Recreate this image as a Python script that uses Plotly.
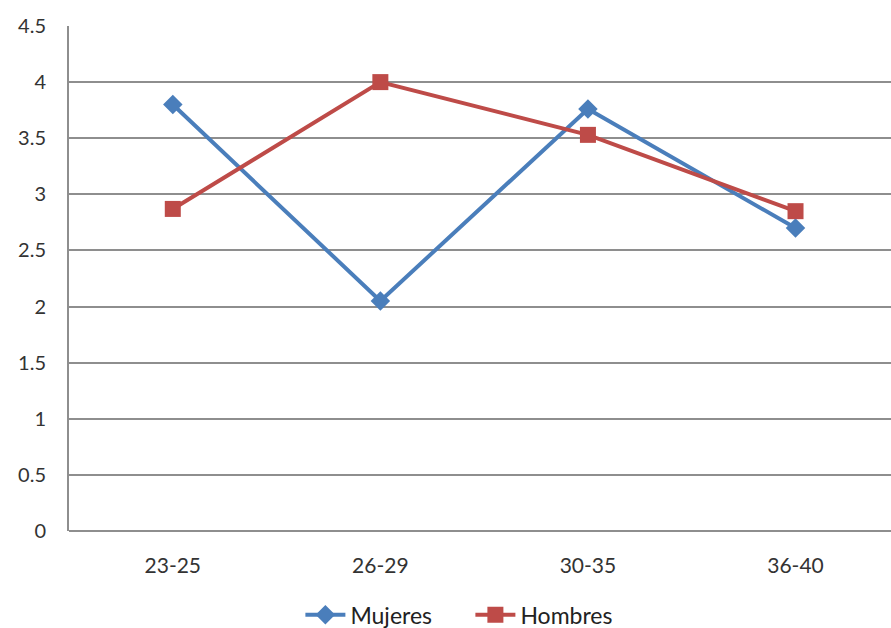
import plotly.graph_objects as go

# Age groups and mean scores per group
grupos = ["23-25", "26-29", "30-35", "36-40"]
mujeres = [3.80, 2.05, 3.76, 2.70]
hombres = [2.87, 4.00, 3.53, 2.85]
y_ticks = [0, 0.5, 1, 1.5, 2, 2.5, 3, 3.5, 4, 4.5]
y_tick_text = ["0", "0.5", "1", "1.5", "2", "2.5", "3", "3.5", "4", "4.5"]

BLUE = "#4a7ebb"
RED = "#be4b48"
GRID = "#8e8e8e"
FONT = "Lato, Open Sans, sans-serif"
TEXT = "#333333"

fig = go.Figure()
fig.add_trace(go.Scatter(
    x=grupos, y=mujeres, name="Mujeres", mode="lines+markers",
    line=dict(color=BLUE, width=4),
    marker=dict(symbol="diamond", size=15, color=BLUE),
))
fig.add_trace(go.Scatter(
    x=grupos, y=hombres, name="Hombres", mode="lines+markers",
    line=dict(color=RED, width=4),
    marker=dict(symbol="square", size=16, color=RED),
))

fig.update_layout(
    width=891, height=628,
    margin=dict(l=69, r=0, t=26, b=97, autoexpand=False),
    paper_bgcolor="white", plot_bgcolor="white",
    font=dict(family=FONT, size=20, color=TEXT),
    showlegend=True,
    legend=dict(
        orientation="h", x=0.2815, xanchor="left",
        yref="container", y=0.021, yanchor="middle",
        font=dict(size=23, color="#222222"),
        traceorder="normal", entrywidth=115, itemwidth=40,
    ),
    xaxis=dict(
        type="category", range=[-0.5, 3.46],
        showgrid=False, showline=False, zeroline=False,
        ticks="", tickfont=dict(size=21, color=TEXT),
        ticklabelstandoff=20,
    ),
    yaxis=dict(
        range=[0, 4.5], tickvals=y_ticks, ticktext=y_tick_text,
        showgrid=True, gridcolor=GRID, gridwidth=2,
        showline=True, linecolor=GRID, linewidth=2,
        zeroline=True, zerolinecolor=GRID, zerolinewidth=2,
        ticks="", tickfont=dict(size=20, color=TEXT),
        ticklabelstandoff=17,
    ),
)

fig.write_html("out.html")
